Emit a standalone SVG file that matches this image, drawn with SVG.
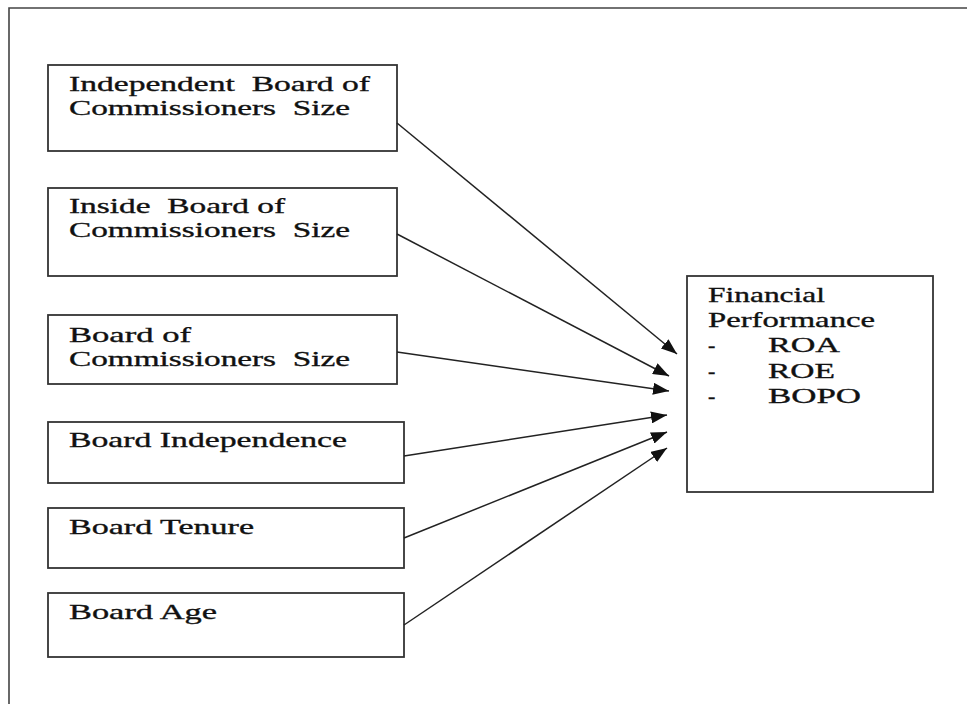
<svg xmlns="http://www.w3.org/2000/svg" width="967" height="704" viewBox="0 0 967 704">
<style>
.frame{fill:none;stroke:#444;stroke-width:1.6}
.box{fill:#fff;stroke:#333;stroke-width:1.8}
.t{font-family:"Liberation Serif","Times New Roman",serif;font-size:22px;fill:#111;stroke:#111;stroke-width:0.35}
.c{stroke:#222;stroke-width:1.5;fill:none}
</style>
<defs>
<marker id="ah" markerUnits="userSpaceOnUse" markerWidth="16" markerHeight="12" refX="16" refY="6" orient="auto">
<path d="M0,0 L16,6 L0,12 z" fill="#111"/>
</marker>
</defs>
<rect width="967" height="704" fill="#fff"/>
<path class="frame" d="M9,704 L9,8 L967,8"/>
<g id="n1">
<rect class="box" x="48" y="65" width="349" height="86"/>
<text class="t" x="69" y="91" textLength="301" lengthAdjust="spacingAndGlyphs" xml:space="preserve">Independent  Board of</text>
<text class="t" x="69" y="115" textLength="281" lengthAdjust="spacingAndGlyphs" xml:space="preserve">Commissioners  Size</text>
</g>
<g id="n2">
<rect class="box" x="48" y="188" width="349" height="88"/>
<text class="t" x="69" y="213" textLength="216" lengthAdjust="spacingAndGlyphs" xml:space="preserve">Inside  Board of</text>
<text class="t" x="69" y="237" textLength="281" lengthAdjust="spacingAndGlyphs" xml:space="preserve">Commissioners  Size</text>
</g>
<g id="n3">
<rect class="box" x="48" y="315" width="349" height="69"/>
<text class="t" x="69" y="342" textLength="122" lengthAdjust="spacingAndGlyphs" xml:space="preserve">Board of</text>
<text class="t" x="69" y="366" textLength="281" lengthAdjust="spacingAndGlyphs" xml:space="preserve">Commissioners  Size</text>
</g>
<g id="n4">
<rect class="box" x="48" y="422" width="356" height="61"/>
<text class="t" x="69" y="447" textLength="278" lengthAdjust="spacingAndGlyphs">Board Independence</text>
</g>
<g id="n5">
<rect class="box" x="48" y="508" width="356" height="60"/>
<text class="t" x="69" y="534" textLength="185" lengthAdjust="spacingAndGlyphs">Board Tenure</text>
</g>
<g id="n6">
<rect class="box" x="48" y="593" width="356" height="64"/>
<text class="t" x="69" y="619" textLength="148" lengthAdjust="spacingAndGlyphs">Board Age</text>
</g>
<g id="n7">
<rect class="box" x="687" y="276" width="246" height="216"/>
<text class="t" x="708" y="302" textLength="117" lengthAdjust="spacingAndGlyphs">Financial</text>
<text class="t" x="708" y="327" textLength="167" lengthAdjust="spacingAndGlyphs">Performance</text>
<text class="t" x="708" y="352">-</text>
<text class="t" x="768" y="352" textLength="72" lengthAdjust="spacingAndGlyphs">ROA</text>
<text class="t" x="708" y="378">-</text>
<text class="t" x="768" y="378" textLength="67" lengthAdjust="spacingAndGlyphs">ROE</text>
<text class="t" x="708" y="403">-</text>
<text class="t" x="768" y="403" textLength="93" lengthAdjust="spacingAndGlyphs">BOPO</text>
</g>
<g id="connectors">
<line class="c" x1="397" y1="123" x2="677" y2="354" marker-end="url(#ah)"/>
<line class="c" x1="397" y1="234" x2="669" y2="376" marker-end="url(#ah)"/>
<line class="c" x1="397" y1="352" x2="669" y2="391" marker-end="url(#ah)"/>
<line class="c" x1="404" y1="456" x2="667" y2="415" marker-end="url(#ah)"/>
<line class="c" x1="404" y1="538" x2="667" y2="432" marker-end="url(#ah)"/>
<line class="c" x1="404" y1="625" x2="667" y2="448" marker-end="url(#ah)"/>
</g>
</svg>
